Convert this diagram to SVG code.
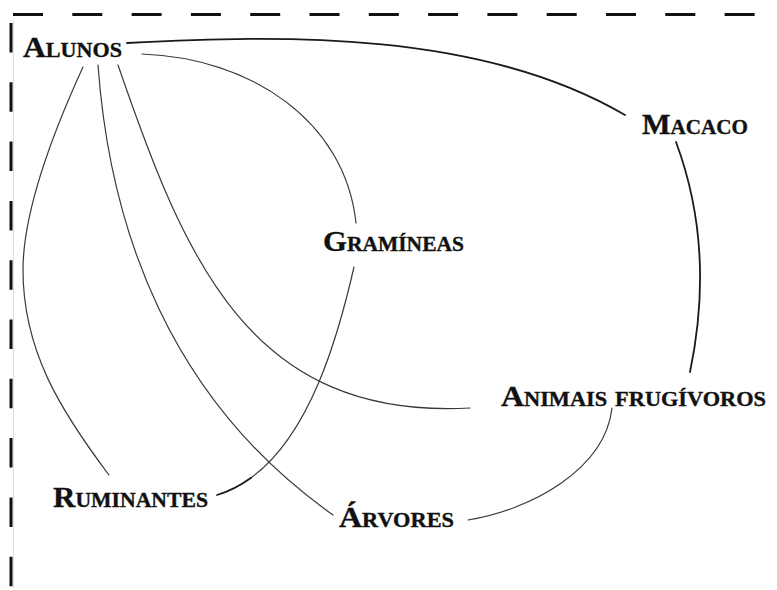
<svg xmlns="http://www.w3.org/2000/svg" width="777" height="590" viewBox="0 0 777 590">
<style>
.lbl{font-family:"Liberation Serif","Times New Roman",serif;font-weight:bold;font-variant:small-caps;font-size:30px;fill:#111;stroke:#111;stroke-width:0.35}
.c{fill:none;stroke:#3a3a3a;stroke-width:1.2;stroke-linecap:round}
.ck{fill:none;stroke:#1a1a1a;stroke-width:1.8;stroke-linecap:round}
.border{fill:none;stroke:#111;stroke-width:3}
</style>
<rect width="777" height="590" fill="#fff"/>
<g id="frame">
<line x1="13.5" y1="20" x2="13.5" y2="588" stroke="#dcdcdc" stroke-width="1"/>
<line class="border" x1="13" y1="14.5" x2="777" y2="14.5" stroke-dasharray="30 29.3"/>
<line class="border" x1="11" y1="23" x2="11" y2="590" stroke-dasharray="29.5 29.8"/>
</g>
<g id="connectors">
<path class="ck" d="M127,43 C280,35 480,30 625,115"/>
<path class="c" d="M142,54 C250,58 345,120 356,223"/>
<path class="c" d="M83,67 C45,150 23,220 23,270 C23,350 60,410 109,475"/>
<path class="c" d="M98,65 C110,230 170,400 333,515"/>
<path class="c" d="M118,65 C185,260 250,420 470,408"/>
<path class="c" d="M354,267 C337.85,337.55 310.14,434.84 251.17,477.68"/>
<path class="ck" d="M251.17,477.68 C240.82,485.11 229.45,491.25 217,495"/>
<path class="ck" d="M676,142 C705,220 705,300 690,372"/>
<path class="c" d="M612,408 C605,470 530,510 468,520"/>
</g>
<g id="alunos"><text class="lbl" x="23" y="57" textLength="99" lengthAdjust="spacingAndGlyphs">Alunos</text></g>
<g id="macaco"><text class="lbl" x="642" y="134" textLength="106" lengthAdjust="spacingAndGlyphs">Macaco</text></g>
<g id="gramineas"><text class="lbl" x="323" y="251" textLength="141" lengthAdjust="spacingAndGlyphs">Gramíneas</text></g>
<g id="animais"><text class="lbl" x="501" y="406" textLength="265" lengthAdjust="spacingAndGlyphs">Animais frugívoros</text></g>
<g id="ruminantes"><text class="lbl" x="53" y="507" textLength="155" lengthAdjust="spacingAndGlyphs">Ruminantes</text></g>
<g id="arvores"><text class="lbl" x="339" y="527" textLength="115" lengthAdjust="spacingAndGlyphs">Árvores</text></g>
</svg>
